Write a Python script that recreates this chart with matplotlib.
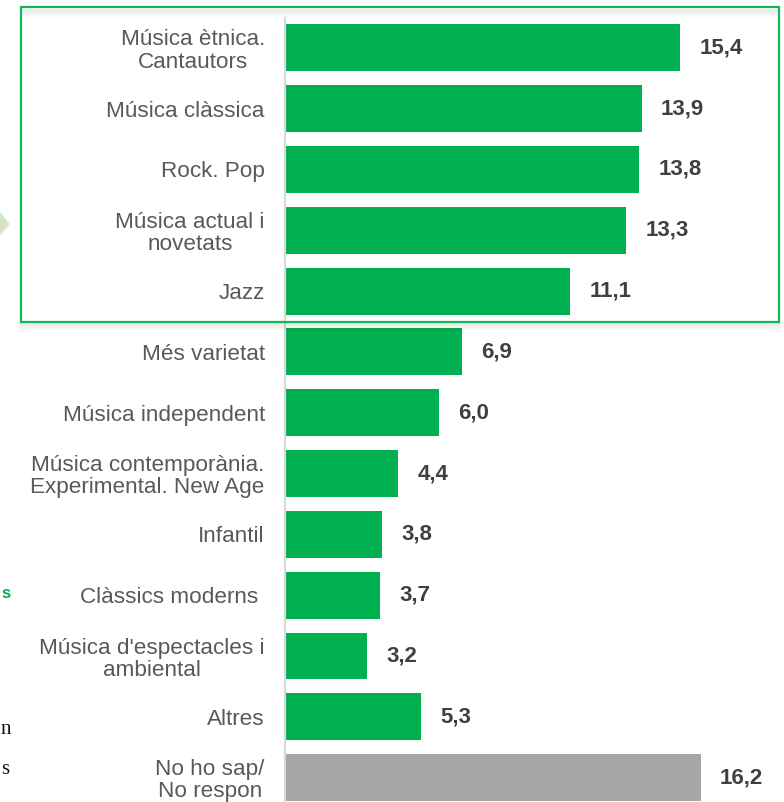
import matplotlib
matplotlib.use("Agg")
import matplotlib.pyplot as plt
from matplotlib.patches import Rectangle, Polygon

plt.rcParams['font.family'] = ['Liberation Sans', 'DejaVu Sans']

# Data
categories = [
    "Música ètnica.\nCantautors",
    "Música clàssica",
    "Rock. Pop",
    "Música actual i\nnovetats",
    "Jazz",
    "Més varietat",
    "Música independent",
    "Música contemporània.\nExperimental. New Age",
    "Infantil",
    "Clàssics moderns ",
    "Música d'espectacles i\nambiental",
    "Altres",
    "No ho sap/\nNo respon",
]
values = [15.4, 13.9, 13.8, 13.3, 11.1, 6.9, 6.0, 4.4, 3.8, 3.7, 3.2, 5.3, 16.2]
bar_colors = ["#00B050"] * 12 + ["#A6A6A6"]

W, H = 784, 802
fig = plt.figure(figsize=(W / 100, H / 100), dpi=100)


def fx(px):
    return px / W


def fy(py):
    return 1 - py / H


# axes placed in pixel terms of the original slide
ax = fig.add_axes([fx(285), 0, fx(W - 285), 784 / H])
ypos = list(range(len(values)))
ax.barh(ypos, values, height=0.77, color=bar_colors, zorder=2)
ax.set_xlim(0, (W - 285) / 25.65)
ax.set_ylim(12.40, -0.49)

ax.set_yticks(ypos)
ax.set_yticklabels(categories, fontsize=16.2, color="#595959", linespacing=1.08)
for t in ax.get_yticklabels():
    t.set_multialignment("center")
ax.tick_params(axis="y", length=0, pad=14.5)
ax.set_xticks([])
for s in ["top", "right", "bottom"]:
    ax.spines[s].set_visible(False)
ax.spines["left"].set_color("#D9D9D9")
ax.spines["left"].set_linewidth(1.6)

# value labels
for y, v in zip(ypos, values):
    ax.annotate(f"{v:.1f}".replace(".", ","), (v, y), xytext=(14, 0),
                textcoords="offset points", va="center", ha="left",
                fontsize=16, fontweight="bold", color="#404040")

# highlight box around the top five rows, with a soft shadow
for k, a in enumerate([0.10, 0.07, 0.05, 0.03]):
    fig.patches.append(Rectangle((fx(21 - 1), fy(322 + 2 + 2 * k)), fx(760), fy(0) - fy(2),
                                 transform=fig.transFigure, facecolor="black",
                                 alpha=a, edgecolor="none", zorder=1))
    fig.patches.append(Rectangle((fx(23), fy(9 + 2 * k + 2)), fx(754), fy(0) - fy(2),
                                 transform=fig.transFigure, facecolor="black",
                                 alpha=a * 0.8, edgecolor="none", zorder=1))
fig.patches.append(Rectangle((fx(21), fy(322)), fx(758), fy(7) - fy(322),
                             transform=fig.transFigure, facecolor="none",
                             edgecolor="#14B552", linewidth=1.6, zorder=5))

# pieces of other slide elements at the left edge
arrow_pts = [(fx(0), fy(212)), (fx(8), fy(222)), (fx(0), fy(233))]
fig.patches.append(Polygon([(fx(0), fy(214)), (fx(10), fy(224)), (fx(0), fy(236))],
                           closed=True, transform=fig.transFigure,
                           facecolor="#e2e2e2", edgecolor="none", zorder=1))
fig.patches.append(Polygon(arrow_pts, closed=True, transform=fig.transFigure,
                           facecolor="#D3E6C1", edgecolor="none", zorder=2))
fig.text(fx(1), fy(593), "s", ha="left", va="center", color="#00B050",
         fontsize=12, fontweight="bold")
fig.text(fx(1), fy(729), "n", ha="left", va="center", color="#111111",
         fontsize=15, family="Liberation Serif")
fig.text(fx(1), fy(770), "s", ha="left", va="center", color="#111111",
         fontsize=15, family="Liberation Serif")

fig.savefig("out.png", dpi=100)
